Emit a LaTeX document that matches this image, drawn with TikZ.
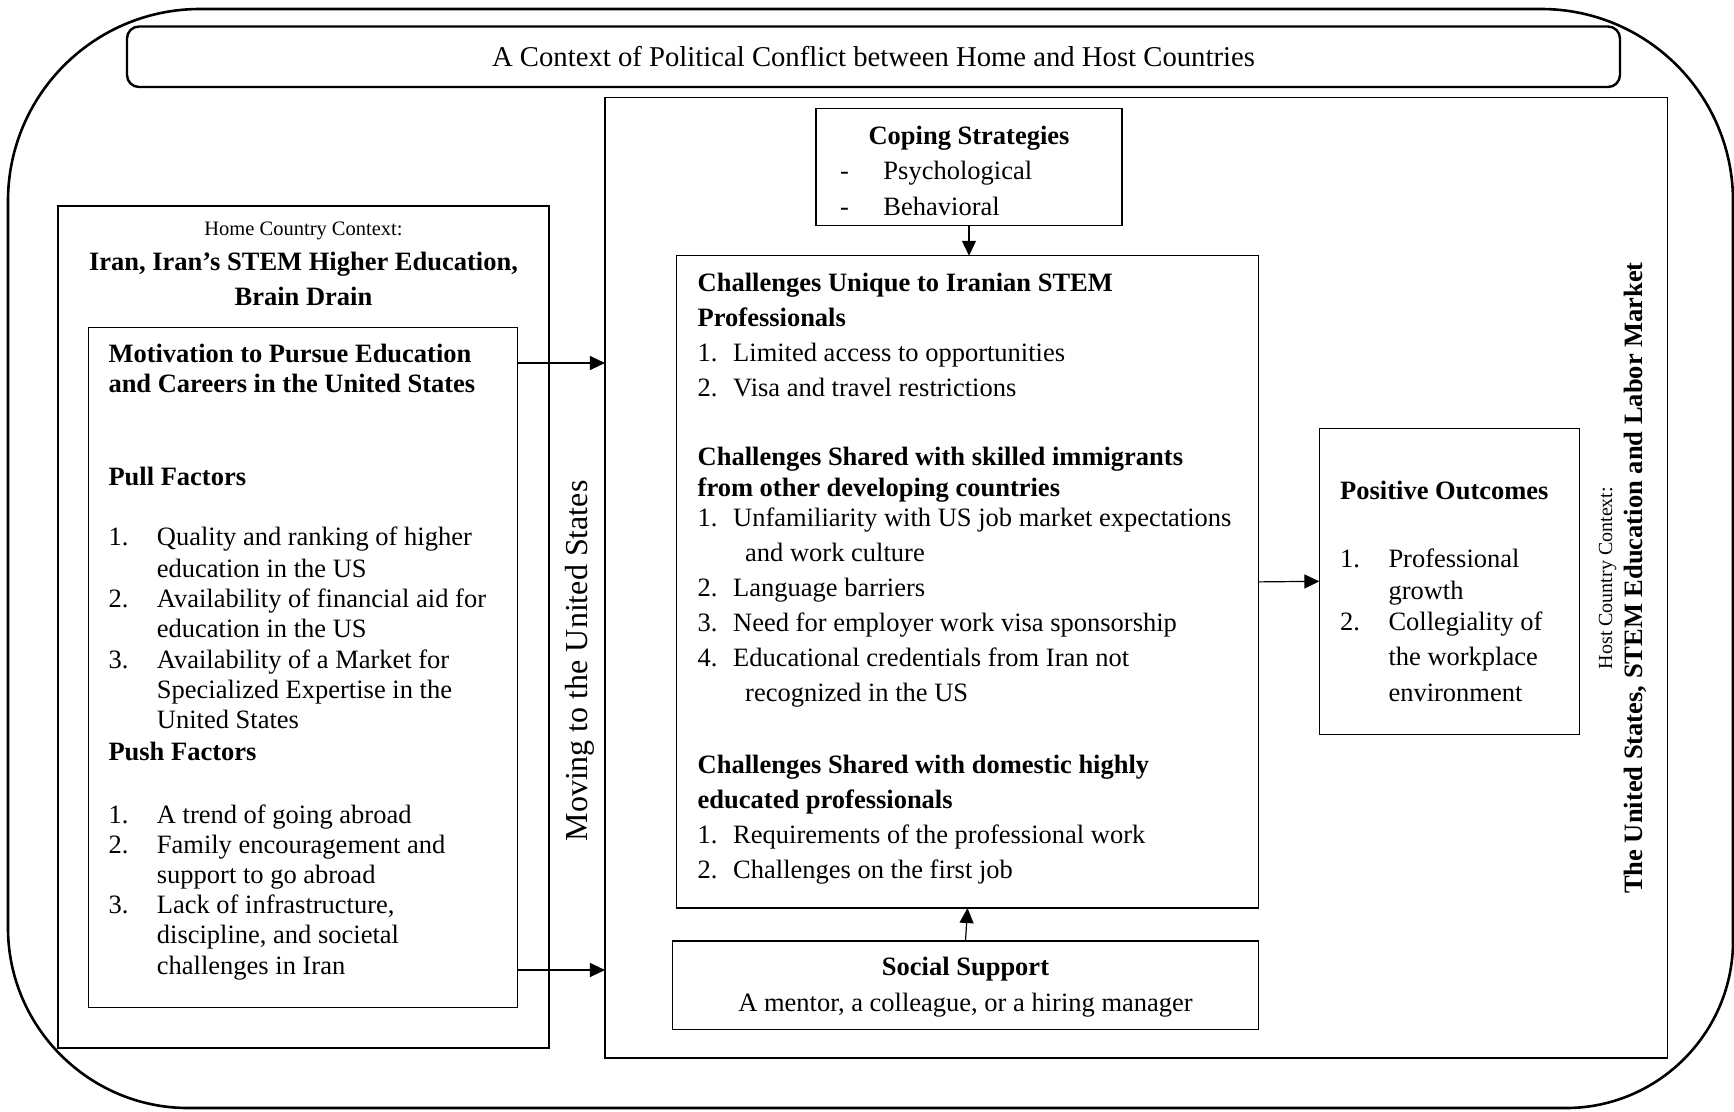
\documentclass[tikz,border=0pt]{standalone}
\usepackage{fontspec}
\setmainfont{Liberation Serif}
\usetikzlibrary{arrows.meta}
% number column of a list line: label in a box of fixed width
\newcommand\itemnum[2]{\makebox[#1][l]{#2}}

\begin{document}
\begin{tikzpicture}[x=1pt,y=-1pt,
  frame/.style={draw=black, line width=1.2pt, inner sep=0pt, outer sep=0pt},
  body/.style={font=\fontsize{26.5}{32}\selectfont, inner sep=0pt, anchor=base west, yshift=-8.7pt},
  bodyc/.style={body, anchor=base},
  head/.style={body, font=\fontsize{26.5}{32}\selectfont\bfseries},
  headc/.style={head, anchor=base},
  link/.style={line width=1.2pt, -{Triangle[length=15pt,width=14pt]}},
]
\useasboundingbox (0,0) rectangle (1734,1111);

% outer rounded frame
\draw[line width=2.6pt]
  (8,201) .. controls (8,95) and (94,9) .. (200,9)
  -- (1541,9) .. controls (1647,9) and (1733,95) .. (1733,201)
  -- (1733,941) .. controls (1733,1033) and (1658,1108) .. (1566,1108)
  -- (188,1108) .. controls (89,1108) and (8,1027) .. (8,928) -- cycle;

% political context banner
\node[frame, line width=2.4pt, rounded corners=12pt, minimum width=1493pt, minimum height=60.5pt] (context) at (873.5,56.75) {};
\node[font=\fontsize{28.7}{34}\selectfont, inner sep=0pt, anchor=base] (contexttext) at (873.5,66) {A Context of Political Conflict between Home and Host Countries};

% boxes
\node[frame, minimum width=491pt, minimum height=842pt] (home) at (303.5,627) {};
\node[frame, minimum width=429pt, minimum height=680pt] (motiv) at (303,667.4) {};
\node[frame, minimum width=1062.7pt, minimum height=960.7pt] (host) at (1136.3,577.7) {};
\node[frame, minimum width=306pt, minimum height=117pt] (coping) at (969,167.2) {};
\node[frame, minimum width=581.7pt, minimum height=652.3pt] (chall) at (967.5,581.9) {};
\node[frame, minimum width=585.7pt, minimum height=88.5pt] (social) at (965.5,985.3) {};
\node[frame, minimum width=260.3pt, minimum height=305.8pt] (pos) at (1449.5,581.3) {};

% home country context
\node[font=\fontsize{20.5}{24}\selectfont, inner sep=0pt, anchor=base] (homelabel) at (303.5,235.7) {Home Country Context:};
\node[headc] (homename1) at (303.5,261.7) {Iran, Iran’s STEM Higher Education,};
\node[headc] (homename2) at (303.5,296.7) {Brain Drain};

% motivation
\node[head] (mot1) at (108.3,353.3) {Motivation to Pursue Education};
\node[head] (mot2) at (108.3,383.3) {and Careers in the United States};
\node[head] (pull) at (108.3,476.7) {Pull Factors};
\node[body] (pull1) at (108.3,537) {\itemnum{48.4pt}{1.}Quality and ranking of higher};
\node[body] (pull1b) at (156.7,568.3) {education in the US};
\node[body] (pull2) at (108.3,598.3) {\itemnum{48.4pt}{2.}Availability of financial aid for};
\node[body] (pull2b) at (156.7,628.3) {education in the US};
\node[body] (pull3) at (108.3,660) {\itemnum{48.4pt}{3.}Availability of a Market for};
\node[body] (pull3b) at (156.7,690) {Specialized Expertise in the};
\node[body] (pull3c) at (156.7,720) {United States};
\node[head] (push) at (108.3,752) {Push Factors};
\node[body] (push1) at (108.3,815) {\itemnum{48.4pt}{1.}A trend of going abroad};
\node[body] (push2) at (108.3,845) {\itemnum{48.4pt}{2.}Family encouragement and};
\node[body] (push2b) at (156.7,875) {support to go abroad};
\node[body] (push3) at (108.3,905) {\itemnum{48.4pt}{3.}Lack of infrastructure,};
\node[body] (push3b) at (156.7,935) {discipline, and societal};
\node[body] (push3c) at (156.7,966) {challenges in Iran};

% move label
\node[font=\fontsize{32}{38}\selectfont, inner sep=0pt, anchor=base, rotate=90] (moving) at (587,661) {Moving to the United States};

% coping strategies
\node[headc] (cop0) at (969,135.7) {Coping Strategies};
\node[body] (cop1) at (840,171) {\itemnum{43.3pt}{-}Psychological};
\node[body] (cop2) at (840,206.7) {\itemnum{43.3pt}{-}Behavioral};

% challenges
\node[head] (ch1) at (697.5,283) {Challenges Unique to Iranian STEM};
\node[head] (ch1b) at (697.5,318) {Professionals};
\node[body] (ch1i1) at (697.5,353) {\itemnum{35.5pt}{1.}Limited access to opportunities};
\node[body] (ch1i2) at (697.5,388) {\itemnum{35.5pt}{2.}Visa and travel restrictions};
\node[head] (ch2) at (697.5,457) {Challenges Shared with skilled immigrants};
\node[head] (ch2b) at (697.5,488) {from other developing countries};
\node[body] (ch2i1) at (697.5,518) {\itemnum{35.5pt}{1.}Unfamiliarity with US job market expectations};
\node[body] (ch2i1b) at (745,553) {and work culture};
\node[body] (ch2i2) at (697.5,588) {\itemnum{35.5pt}{2.}Language barriers};
\node[body] (ch2i3) at (697.5,623) {\itemnum{35.5pt}{3.}Need for employer work visa sponsorship};
\node[body] (ch2i4) at (697.5,658) {\itemnum{35.5pt}{4.}Educational credentials from Iran not};
\node[body] (ch2i4b) at (745,693) {recognized in the US};
\node[head] (ch3) at (697.5,765) {Challenges Shared with domestic highly};
\node[head] (ch3b) at (697.5,800) {educated professionals};
\node[body] (ch3i1) at (697.5,835) {\itemnum{35.5pt}{1.}Requirements of the professional work};
\node[body] (ch3i2) at (697.5,870) {\itemnum{35.5pt}{2.}Challenges on the first job};

% social support
\node[headc] (soc1) at (965.5,967) {Social Support};
\node[bodyc] (soc2) at (965.5,1003) {A mentor, a colleague, or a hiring manager};

% positive outcomes
\node[head] (pos0) at (1340,491) {Positive Outcomes};
\node[body] (pos1) at (1340,559) {\itemnum{48.3pt}{1.}Professional};
\node[body] (pos1b) at (1388.3,591) {growth};
\node[body] (pos2) at (1340,621.5) {\itemnum{48.3pt}{2.}Collegiality of};
\node[body] (pos2b) at (1388.3,657) {the workplace};
\node[body] (pos2c) at (1388.3,692.7) {environment};

% host country label
\node[font=\fontsize{20}{24}\selectfont, inner sep=0pt, anchor=base, rotate=90] (hostlabel) at (1612,578) {Host Country Context:};
\node[font=\fontsize{26.5}{32}\selectfont\bfseries, inner sep=0pt, anchor=base, rotate=90] (hostname) at (1642,578) {The United States, STEM Education and Labor Market};

% connectors
\coordinate (upper) at (0,363);
\coordinate (lower) at (0,970);
\draw[link] (motiv.east |- upper) -- (host.west |- upper);
\draw[link] (motiv.east |- lower) -- (host.west |- lower);
\draw[link] (coping.south) -- (coping.south |- chall.north);
\draw[link] (social.north) -- (chall.south);
\draw[link] (chall.east) -- (pos.west);
\end{tikzpicture}
\end{document}
